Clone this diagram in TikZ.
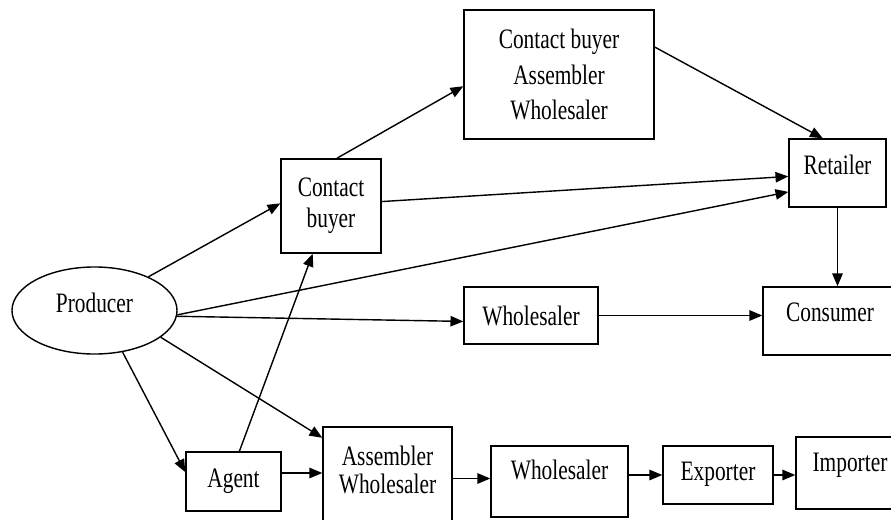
\documentclass[tikz,border=0pt]{standalone}
\usepackage{fontspec}
\setmainfont[FakeStretch=0.76]{Liberation Serif}
\usetikzlibrary{arrows.meta,
                shapes.geometric}

\begin{document}
\begin{tikzpicture}[
			x=0.025cm, y=-0.025cm,
			line width=1pt,
			box/.style = {draw, rectangle, align=center, inner sep=2pt,
			              font=\fontsize{20}{22}\selectfont},
			up/.style = {text height=14pt, text depth=#1},
			-{Triangle[length=0.32cm, width=0.26cm]},
			]
			\useasboundingbox (0,0) rectangle (891,519);
			% producer
			\node[box, ellipse, minimum width=4.125cm, minimum height=2.175cm, up=10.7pt] (P) at (94.5,310.5) {Producer};
			% upper boxes
			\node[box, minimum width=2.5cm, minimum height=2.35cm] (CB) at (331,206) {Contact\\buyer};
			\node[box, minimum width=4.75cm, minimum height=3.225cm] (CAW) at (559,74.5) {Contact buyer\\[3pt]Assembler\\[3pt]Wholesaler};
			\node[box, minimum width=2.425cm, minimum height=1.7cm, up=11.4pt] (R) at (837.5,173) {Retailer};
			\node[box, minimum width=3.35cm, minimum height=1.425cm] (W1) at (531,315.5) {Wholesaler};
			\node[box, minimum width=3.35cm, minimum height=1.7cm, up=12.8pt] (C) at (830,321) {Consumer};
			% lower boxes
			\node[box, minimum width=2.375cm, minimum height=1.475cm, up=5pt] (A) at (233.5,481.5) {Agent};
			\node[box, minimum width=3.225cm, minimum height=2.575cm, text height=22pt, text depth=0pt] (AW) at (387.5,478.5) {Assembler\\[-1.5pt]Wholesaler};
			\node[box, minimum width=3.425cm, minimum height=1.775cm, up=16.4pt] (W2) at (559.5,481.5) {Wholesaler};
			\node[box, minimum width=2.75cm, minimum height=1.45cm, up=5.7pt] (E) at (718,475) {Exporter};
			\node[box, minimum width=2.7cm, minimum height=1.8cm, up=15.6pt] (I) at (850,473) {Importer};
			% edges
			\path[]
			(P.32) edge (CB.177)
			(P.-3) edge (R.201)
			(P.-4) edge (W1.185)
			(P.-22) edge (AW.148)
			(P.-56) edge (A.169)
			(CB.83) edge (CAW.187)
			(CB.5) edge (R.184)
			(CAW.16) edge (R.113)
			(R.south) edge (R.south |- C.north)
			(W1.east) edge (W1.east -| C.west)
			(A.79) edge (CB.249)
			(A.10) edge (A.10 -| AW.west)
			(AW.east) edge (AW.east -| W2.west)
			(W2.east |- E.west) edge (E.west)
			(E.east) edge (E.east -| I.west)
			;
		\end{tikzpicture}
\end{document}
